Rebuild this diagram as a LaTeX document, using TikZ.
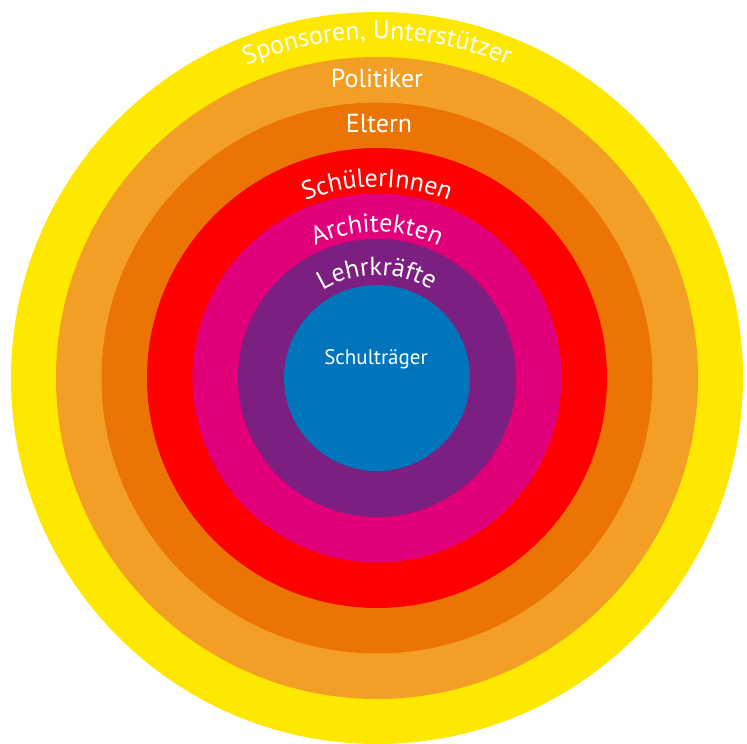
\documentclass[tikz,border=0pt]{standalone}
\usepackage{fontspec}
\setmainfont{PT Sans}
\usepackage{tikz}
\usetikzlibrary{decorations.text}
\usepackage{xcolor}

\definecolor{ringgelb}{RGB}{255,232,0}
\definecolor{ringhellorange}{RGB}{243,159,38}
\definecolor{ringorange}{RGB}{236,116,4}
\definecolor{ringrot}{RGB}{255,0,0}
\definecolor{ringmagenta}{RGB}{226,0,122}
\definecolor{ringlila}{RGB}{123,31,128}
\definecolor{ringblau}{RGB}{0,117,188}

\tikzset{
  bogentext/.style={decorate, decoration={text along path, text align=center,
      text color=white, text={|\fontsize{26}{26}\selectfont|#1}}},
  geradetext/.style={text=white, anchor=base, inner sep=0pt,
      font=\fontsize{26}{26}\selectfont},
}

\begin{document}
\begin{tikzpicture}[x=1pt,y=1pt]
  \useasboundingbox (0,0) rectangle (747,744);
  \coordinate (mitte) at (377,366);

\fill[ringgelb] (mitte) circle[radius=366];
\fill[ringhellorange] (mitte) circle[radius=321];
\fill[ringorange] (mitte) circle[radius=275.5];
\fill[ringrot] (mitte) circle[radius=230];
\fill[ringmagenta] (mitte) circle[radius=184.5];
\fill[ringlila] (mitte) circle[radius=139];
\fill[ringblau] (mitte) circle[radius=93];

\path[bogentext={Sponsoren, Unterstützer}] ([shift={(180:339)}]mitte) arc[start angle=180, end angle=0, radius=339];

\node[geradetext] (politiker) at (377,656) {Politiker};

\node[geradetext] (eltern) at (379,611) {Eltern};

\path[bogentext={SchülerInnen}] ([shift={(180:191)}]mitte) arc[start angle=180, end angle=0, radius=191];

\path[bogentext={Architekten}] ([shift={(180:146)}]mitte) arc[start angle=180, end angle=0, radius=146];

\path[bogentext={Lehrkräfte}] ([shift={(180:103)}]mitte) arc[start angle=180, end angle=0, radius=103];

\node[geradetext, font=\fontsize{21}{21}\selectfont] (traeger) at (376,379) {Schulträger};

\end{tikzpicture}
\end{document}
